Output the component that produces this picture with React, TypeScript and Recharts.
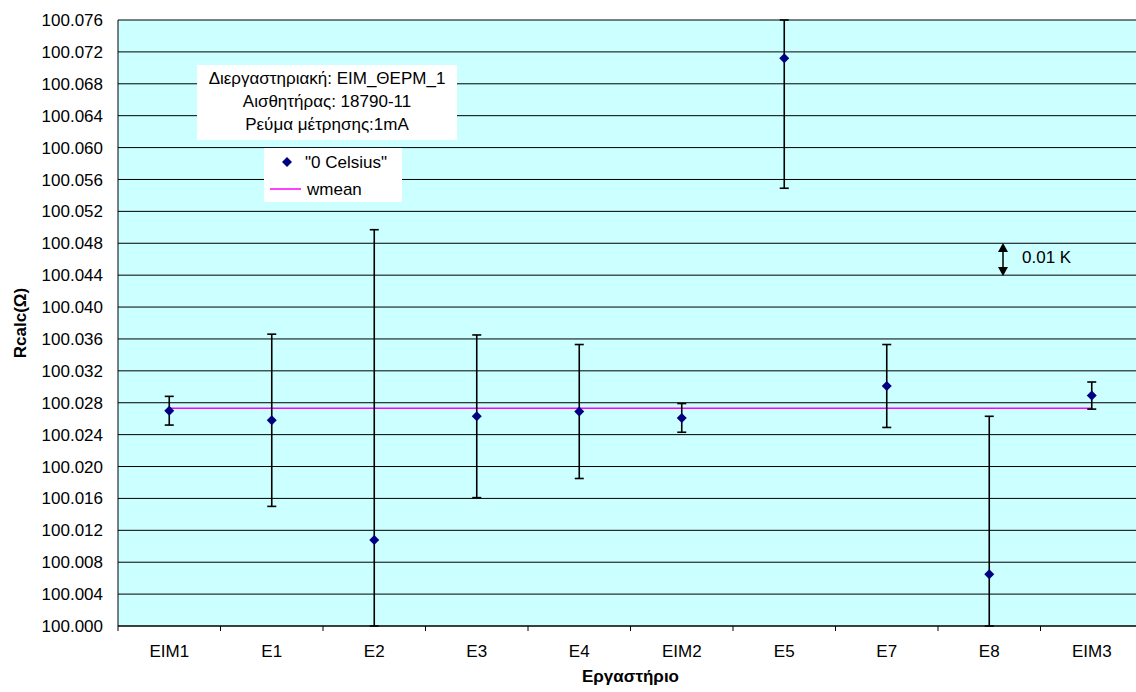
import React from 'react'
import { ComposedChart, Scatter, Line, XAxis, YAxis, CartesianGrid, ErrorBar, Legend } from 'recharts'

const categories = ['EIM1', 'E1', 'E2', 'E3', 'E4', 'EIM2', 'E5', 'E7', 'E8', 'EIM3']
const rcalc = [100.027, 100.0258, 100.0108, 100.0263, 100.0269, 100.0261, 100.0712, 100.0301, 100.0065, 100.0289]
const uncert = [0.0018, 0.0108, 0.0389, 0.0102, 0.0084, 0.0018, 0.0163, 0.0052, 0.0198, 0.0017]
const wmean = 100.0273
const yTicks = [
  100.0, 100.004, 100.008, 100.012, 100.016, 100.02, 100.024, 100.028, 100.032, 100.036,
  100.04, 100.044, 100.048, 100.052, 100.056, 100.06, 100.064, 100.068, 100.072, 100.076,
]
const boxLines = ['Διεργαστηριακή: ΕΙΜ_ΘΕΡΜ_1', 'Αισθητήρας: 18790-11', 'Ρεύμα μέτρησης:1mA']

const Y_MIN = yTicks[0]
const Y_MAX = yTicks[yTicks.length - 1]

// error bars are cut at the plot edges, like in the original
const data = categories.map((name, i) => ({
  x: i + 0.5,
  name,
  value: rcalc[i],
  err: [Math.min(uncert[i], rcalc[i] - Y_MIN), Math.min(uncert[i], Y_MAX - rcalc[i])],
  wmean,
}))

const CHART_W = 1150
const CHART_H = 692
const Y_AXIS_W = 118
const MARGIN = { top: 20, right: 7, bottom: 0, left: 0 }
const STEP = (CHART_W - Y_AXIS_W - MARGIN.right - MARGIN.left) / categories.length
const FONT = "'Liberation Sans', Arial, sans-serif"

const Diamond = (props: any) => {
  const { cx, cy } = props
  const r = 5
  return <polygon points={`${cx},${cy - r} ${cx + r},${cy} ${cx},${cy + r} ${cx - r},${cy}`} fill="#000080" />
}

const XTick = (props: any) => {
  const { x, y, index } = props
  if (index >= categories.length) return null
  return (
    <text x={x + STEP / 2} y={y} dy={24} textAnchor="middle" fontSize={17} fill="#000" fontFamily={FONT}>
      {categories[index]}
    </text>
  )
}

const LegendBox = () => (
  <div style={{ background: '#fff', width: 138, height: 54, position: 'relative', fontSize: 17, fontFamily: FONT, color: '#000' }}>
    <svg width={138} height={54} style={{ position: 'absolute', left: 0, top: 0 }}>
      <polygon points="23,9 28,14 23,19 18,14" fill="#000080" />
      <line x1={6} y1={41} x2={37} y2={41} stroke="#ff00ff" strokeWidth={1.5} />
      <text x={41} y={20} fontSize={17} fontFamily={FONT}>"0 Celsius"</text>
      <text x={43} y={47} fontSize={17} fontFamily={FONT}>wmean</text>
    </svg>
  </div>
)

export default function App() {
  return (
    <div style={{ position: 'absolute', left: 0, top: 0, width: 1136, height: 692, overflow: 'hidden', background: '#fff', fontFamily: FONT }}>
      <ComposedChart width={CHART_W} height={CHART_H} data={data} margin={MARGIN}>
        <CartesianGrid vertical={false} stroke="#000" fill="#ccffff" fillOpacity={1} />
        <XAxis
          dataKey="x"
          type="number"
          domain={[0, categories.length]}
          ticks={categories.map((_, i) => i).concat(categories.length)}
          interval={0}
          height={66}
          stroke="#000"
          tickSize={5}
          tick={<XTick />}
          label={{ value: 'Εργαστήριο', position: 'insideBottom', offset: 10, fill: '#000', fontSize: 17, fontWeight: 'bold' }}
        />
        <YAxis
          type="number"
          domain={[Y_MIN, Y_MAX]}
          ticks={yTicks}
          interval={0}
          allowDataOverflow
          width={Y_AXIS_W}
          stroke="#000"
          tickLine={false}
          tickSize={6}
          tickMargin={9}
          tickFormatter={(v: number) => v.toFixed(3)}
          tick={{ fill: '#000', fontSize: 17 }}
          label={{ value: 'Rcalc(Ω)', angle: -90, position: 'insideLeft', offset: 20, fill: '#000', fontSize: 17, fontWeight: 'bold', style: { textAnchor: 'middle' } }}
        />
        <Legend
          layout="vertical"
          align="center"
          verticalAlign="middle"
          wrapperStyle={{ left: 264, top: 148, width: 138, height: 54 }}
          content={() => <LegendBox />}
        />
        <Line dataKey="wmean" name="wmean" stroke="#ff00ff" strokeWidth={1.5} dot={false} activeDot={false} isAnimationActive={false} />
        <Scatter dataKey="value" name='"0 Celsius"' shape={<Diamond />} isAnimationActive={false}>
          <ErrorBar dataKey="err" direction="y" width={4.5} stroke="#000" strokeWidth={1.6} />
        </Scatter>
      </ComposedChart>

      <div
        style={{
          position: 'absolute', left: 197, top: 65, width: 260, height: 75, background: '#fff',
          fontSize: 17, lineHeight: '23px', textAlign: 'center', paddingTop: 2, boxSizing: 'border-box', color: '#000',
        }}
      >
        {boxLines.map((t) => <div key={t}>{t}</div>)}
      </div>

      <svg width={90} height={40} style={{ position: 'absolute', left: 995, top: 240 }}>
        <line x1={8} y1={9} x2={8} y2={28} stroke="#000" strokeWidth={1.5} />
        <polygon points="8,3 3,12 13,12" fill="#000" />
        <polygon points="8,36 3,27 13,27" fill="#000" />
        <text x={27} y={23} fontSize={17} fontFamily={FONT} fill="#000">0.01 K</text>
      </svg>
    </div>
  )
}
